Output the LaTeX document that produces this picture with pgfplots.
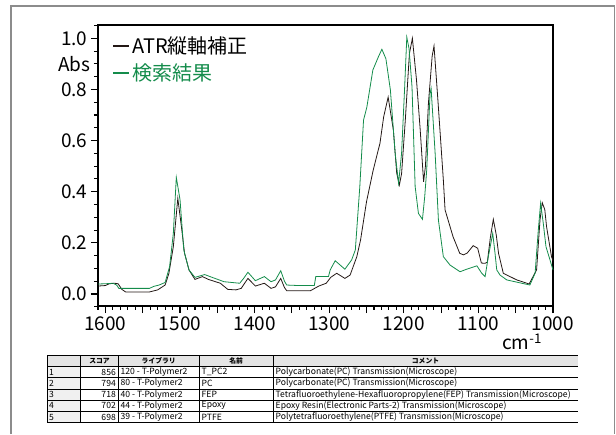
\documentclass[border=0pt]{standalone}
\usepackage{pgfplots}
\pgfplotsset{compat=1.18}
\usepackage{fontspec}
\setmainfont{Noto Sans CJK JP}
\definecolor{specblack}{RGB}{35,24,21}
\definecolor{specgreen}{RGB}{20,140,75}
\definecolor{framegray}{RGB}{140,140,140}
\definecolor{hdrgray}{RGB}{228,228,228}
\definecolor{numgray}{RGB}{240,240,240}

\pgfplotstableread{
w v
1610 0.031
1600 0.033
1595 0.040
1588 0.042
1583 0.040
1578 0.018
1573 0.008
1541 0.008
1530 0.016
1520 0.035
1515 0.080
1509 0.185
1503 0.374
1498 0.260
1494 0.160
1488 0.094
1480 0.057
1470 0.068
1462 0.057
1446 0.042
1436 0.018
1425 0.016
1418 0.022
1409 0.061
1399 0.031
1387 0.042
1378 0.022
1372 0.028
1365 0.061
1360 0.025
1357 0.013
1341 0.013
1325 0.013
1314 0.031
1304 0.042
1298 0.065
1290 0.081
1279 0.061
1272 0.074
1263 0.146
1258 0.211
1250 0.361
1241 0.485
1232 0.589
1227 0.693
1221 0.770
1214 0.641
1209.5 0.472
1206 0.426
1203 0.470
1198 0.680
1192.5 0.940
1188.5 1.000
1183 0.837
1178 0.641
1173.5 0.439
1171 0.500
1167 0.746
1162 0.930
1159.5 0.970
1154 0.746
1147 0.446
1144.7 0.329
1134 0.224
1125 0.159
1120 0.153
1115 0.160
1107 0.189
1101 0.179
1096 0.121
1091 0.120
1088 0.125
1084 0.220
1080 0.292
1076 0.230
1073 0.159
1066.6 0.081
1048.6 0.055
1035 0.042
1032 0.039
1022 0.094
1017.4 0.290
1014.4 0.357
1011 0.330
1008.6 0.263
1002 0.146
1000 0.130
}\blackdata

\pgfplotstableread{
w v
1610 0.039
1600 0.040
1590 0.042
1585 0.035
1582 0.022
1541 0.022
1535 0.030
1528 0.035
1520 0.045
1514 0.107
1509 0.237
1505 0.456
1500 0.368
1495 0.172
1488 0.094
1480 0.065
1467 0.076
1457 0.065
1441 0.048
1420 0.042
1415 0.060
1409 0.085
1399 0.052
1387 0.068
1378 0.048
1372 0.055
1365 0.091
1360 0.050
1357 0.035
1341 0.033
1320 0.033
1318 0.068
1301 0.068
1298.7 0.094
1292 0.130
1279 0.097
1270 0.133
1265 0.172
1259 0.420
1254 0.680
1249.6 0.730
1241.5 0.876
1234 0.928
1229.4 0.957
1224 0.920
1218 0.798
1211.6 0.550
1207 0.433
1203 0.550
1199 0.800
1196 1.004
1193 0.960
1189 0.810
1184.8 0.420
1180.4 0.315
1175 0.292
1172 0.380
1169.3 0.485
1164.8 0.785
1163.4 0.804
1158 0.550
1153.6 0.289
1147 0.146
1138 0.113
1124.6 0.087
1115.6 0.097
1102 0.110
1095.5 0.081
1091 0.068
1086.7 0.146
1080.8 0.237
1077.7 0.159
1075.4 0.094
1071 0.074
1062 0.055
1048 0.046
1031 0.035
1024 0.081
1019.7 0.250
1016.6 0.355
1013 0.276
1009.4 0.185
1004 0.133
1000 0.094
}\greendata

\begin{document}
\begin{tikzpicture}
\path[use as bounding box] (0pt,0pt) rectangle (616pt,434pt);
\draw[framegray, line width=1.5pt] (11pt,0pt) -- (11pt,428pt) -- (614.5pt,428pt) -- (614.5pt,0pt);

\begin{axis}[
  at={(98pt,128pt)}, anchor=south west,
  scale only axis, width=455pt, height=281pt,
  x dir=reverse, xmin=1000, xmax=1610, ymin=-0.047, ymax=1.052,
  clip=false,
  axis line style={line width=1.1pt, black},
  xtick pos=bottom, ytick pos=left,
  tick align=outside,
  major tick length=7pt, minor tick length=4pt,
  every tick/.append style={line width=1.1pt, draw=black},
  every minor tick/.append style={line width=1.1pt, draw=black},
  xtick={1000,1050,...,1600},
  xticklabels={1000,,1100,,1200,,1300,,1400,,1500,,1600},
  minor x tick num=4,
  ytick={0,0.2,0.4,0.6,0.8,1.0},
  minor y tick num=3,
  extra y ticks={-0.05,0.9,1.05},
  extra y tick labels={,Abs,},
  extra y tick style={major tick length=4pt},
  yticklabel style={/pgf/number format/fixed, /pgf/number format/fixed zerofill, /pgf/number format/precision=1},
  /pgf/number format/assume math mode=true,
  ticklabel style={font=\fontsize{19}{19}\selectfont, black},
  legend style={draw=none, fill=none, at={(axis description cs:0.031,0.967)}, anchor=north west,
    font=\fontsize{20}{22}\selectfont, inner sep=0pt, row sep=5pt,
    /tikz/every even column/.append style={column sep=6pt}},
  legend cell align=left,
  legend image code/.code={\draw[#1, line width=1.8pt] (0pt,0pt) -- (16pt,0pt);},
]
\addplot[specblack, line width=0.8pt] table[x=w, y=v] {\blackdata};
\addlegendentry{ATR縦軸補正}
\addplot[specgreen, line width=0.8pt] table[x=w, y=v] {\greendata};
\addlegendentry{\textcolor{specgreen}{検索結果}}
% tick marks drawn along the axis lines, in axis units
\pgfplotsinvokeforeach{1000,1010,...,1610}{
  \draw[black, line width=1.1pt] (axis cs:#1,-0.047) -- (axis cs:#1,-0.063);
}
\pgfplotsinvokeforeach{1000,1050,...,1600}{
  \draw[black, line width=1.1pt] (axis cs:#1,-0.047) -- (axis cs:#1,-0.075);
}
\pgfplotsinvokeforeach{-0.05,0.05,0.1,0.15,0.25,0.3,0.35,0.45,0.5,0.55,0.65,0.7,0.75,0.85,0.9,0.95,1.05}{
  \draw[black, line width=1.1pt] (axis cs:1610,#1) -- (axis cs:1615.4,#1);
}
\pgfplotsinvokeforeach{0,0.2,0.4,0.6,0.8,1.0}{
  \draw[black, line width=1.1pt] (axis cs:1610,#1) -- (axis cs:1619.4,#1);
}
\end{axis}

\node[font=\fontsize{19}{19}\selectfont, anchor=base] at (522pt,84pt) {cm\textsuperscript{-1}};

% table
\fill[hdrgray] (47pt,78.7pt) rectangle (578pt,67.5pt);
\fill[numgray] (47pt,67.5pt) rectangle (80.6pt,11.3pt);
\foreach \y in {78.7,67.5,56.2,45,33.8,22.5,11.3} {
  \draw[black, line width=0.7pt] (47pt,\y pt) -- (578pt,\y pt);
}
\foreach \x in {47,80.6,118.3,199.2,273} {
  \draw[black, line width=0.7pt] (\x pt,78.7pt) -- (\x pt,11.3pt);
}
\tikzset{tbl/.style={font=\fontsize{8.6}{9}\selectfont, inner sep=0pt},
         hdr/.style={font=\fontsize{6.8}{8}\selectfont\bfseries, inner sep=0pt}}
\node[hdr] at (99.5pt,73.1pt) {スコア};
\node[hdr] at (158.7pt,73.1pt) {ライブラリ};
\node[hdr] at (236.1pt,73.1pt) {名前};
\node[hdr] at (425.5pt,73.1pt) {コメント};
\foreach \n/\yc/\s/\lib/\nm/\cm in {
  1/61.85/856/120 - T-Polymer2/T\_PC2/Polycarbonate(PC)  Transmission(Microscope),
  2/50.6/794/80 - T-Polymer2/PC/Polycarbonate(PC)  Transmission(Microscope),
  3/39.4/718/40 - T-Polymer2/FEP/Tetrafluoroethylene-Hexafluoropropylene(FEP)  Transmission(Microscope),
  4/28.15/702/44 - T-Polymer2/Epoxy/Epoxy Resin(Electronic Parts-2)  Transmission(Microscope),
  5/16.9/698/39 - T-Polymer2/PTFE/Polytetrafluoroethylene(PTFE)  Transmission(Microscope)} {
  \node[tbl, anchor=west] at (49pt,\yc pt) {\n};
  \node[tbl, anchor=east] at (116pt,\yc pt) {\s};
  \node[tbl, anchor=west] at (120.5pt,\yc pt) {\lib};
  \node[tbl, anchor=west] at (201.5pt,\yc pt) {\nm};
  \node[tbl, anchor=west] at (275.5pt,\yc pt) {\cm};
}
\end{tikzpicture}
\end{document}
